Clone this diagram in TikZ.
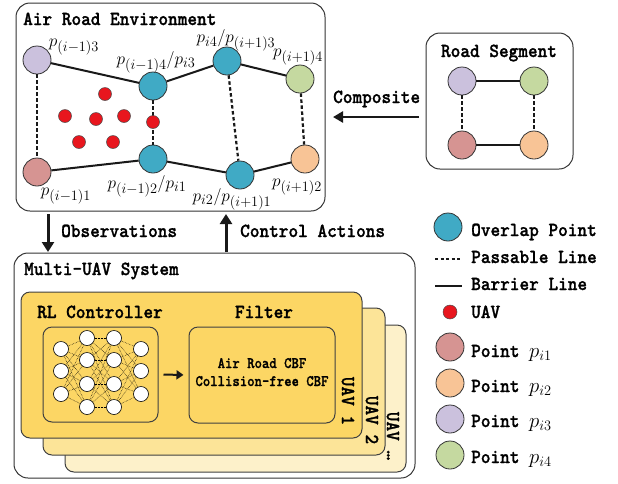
\documentclass[tikz,border=0pt]{standalone}
\usepackage{fontspec}
\usetikzlibrary{arrows.meta}
\newfontfamily\monob{lmmonolt10-bold}[Extension=.otf, FakeBold=1.2, FakeStretch=0.92]
\newfontfamily\monos{lmmonolt10-bold}[Extension=.otf, FakeBold=1.0, FakeStretch=0.88]
\definecolor{ovl}{RGB}{64,170,197}
\definecolor{lav}{RGB}{203,193,221}
\definecolor{grn}{RGB}{197,217,160}
\definecolor{pnk}{RGB}{214,148,146}
\definecolor{pch}{RGB}{248,196,150}
\definecolor{uavred}{RGB}{232,22,30}
\definecolor{goldA}{RGB}{252,214,100}
\definecolor{goldB}{RGB}{252,228,152}
\definecolor{goldC}{RGB}{253,241,202}
\newcommand\bigtt{\fontsize{20}{22}\selectfont\monob}
\newcommand\smalltt{\fontsize{16}{19}\selectfont\monos}
\newcommand\mathsz{\fontsize{19}{21}\selectfont}
\newcommand\legsz{\fontsize{22}{22}\selectfont}
\begin{document}
\begin{tikzpicture}[x=1pt,y=-1pt,
 pt/.style={circle, draw=black!80, line width=0.8pt, minimum size=28pt, inner sep=0pt},
 barrier/.style={line width=2pt, black!90},
 passable/.style={line width=2.2pt, dash pattern=on 3.5pt off 2.5pt, black!90},
 uav/.style={circle, fill=uavred, draw=black!70, line width=0.5pt, minimum size=13pt, inner sep=0pt},
 panel/.style={draw=black!80, line width=1pt, rounded corners=14pt},
 card/.style={draw=black!75, line width=1pt, rounded corners=9pt},
 neuron/.style={circle, draw=black, fill=white, line width=0.6pt, minimum size=15pt, inner sep=0pt},
 lbl/.style={font=\bigtt, inner sep=0pt},
 mlbl/.style={font=\mathsz, inner sep=0pt},
 bigarrow/.style={line width=3pt, black!90, -{Triangle[length=10pt,width=12pt]}},
]
\useasboundingbox (0,0) rectangle (618,483);

% ---------- Air Road Environment ----------
\draw[panel] (16,3) rectangle (325,211);
\node[lbl, anchor=base west] (envt) at (23,25) {Air Road Environment};

\node[pt, fill=lav] (a3) at (37,60) {};
\node[pt, fill=ovl] (a4) at (153,86) {};
\node[pt, fill=ovl] (b4) at (227,61) {};
\node[pt, fill=grn] (c4) at (300,79) {};
\node[pt, fill=pnk] (a1) at (37,172) {};
\node[pt, fill=ovl] (a2) at (153,159) {};
\node[pt, fill=ovl] (b2) at (240,175) {};
\node[pt, fill=pch] (c2) at (305,159) {};

\draw[barrier] (a3) -- (a4);
\draw[barrier] (a4) -- (b4);
\draw[barrier] (b4) -- (c4);
\draw[barrier] (a1) -- (a2);
\draw[barrier] (a2) -- (b2);
\draw[barrier] (b2) -- (c2);
\draw[passable] (a3) -- (a1);
\draw[passable] (a4) -- (a2);
\draw[passable] (b4) -- (b2);
\draw[passable] (c4) -- (c2);

\node[uav] (d1) at (105,94) {};
\node[uav] (d2) at (65,116) {};
\node[uav] (d3) at (96,119) {};
\node[uav] (d4) at (124,116) {};
\node[uav] (d5) at (79,142) {};
\node[uav] (d6) at (113,142) {};
\node[uav] (d7) at (153,122) {};

\node[mlbl] (l3) at (74,47) {$p_{(i-1)3}$};
\node[mlbl] (l4) at (156,62) {$p_{(i-1)4}/p_{i3}$};
\node[mlbl] (l5) at (236,40.5) {$p_{i4}/p_{(i+1)3}$};
\node[mlbl] (l6) at (298,57) {$p_{(i+1)4}$};
\node[mlbl] (l1) at (66,196) {$p_{(i-1)1}$};
\node[mlbl] (l2) at (147,186) {$p_{(i-1)2}/p_{i1}$};
\node[mlbl] (l7) at (232,199) {$p_{i2}/p_{(i+1)1}$};
\node[mlbl] (l8) at (297,187) {$p_{(i+1)2}$};

% ---------- Road Segment ----------
\draw[panel] (426,33) rectangle (573,169);
\node[lbl, anchor=base] (segt) at (499,57) {Road Segment};
\node[pt, fill=lav] (s3) at (462,81) {};
\node[pt, fill=grn] (s4) at (534,81) {};
\node[pt, fill=pnk] (s1) at (462,145) {};
\node[pt, fill=pch] (s2) at (534,145) {};
\draw[barrier] (s3) -- (s4);
\draw[barrier] (s1) -- (s2);
\draw[passable] (s3) -- (s1);
\draw[passable] (s4) -- (s2);

% ---------- Composite ----------
\node[lbl, anchor=base west] (comp) at (333,103) {Composite};
\coordinate (cmpS) at (419,117);
\coordinate (cmpE) at (333,117);
\draw[line width=2.5pt, black!90, -{Triangle[length=10pt,width=11pt]}] (cmpS) -- (cmpE);

% ---------- Observations / Control ----------
\coordinate (obsS) at (48,214);
\coordinate (obsE) at (48,252);
\draw[bigarrow] (obsS) -- (obsE);
\node[lbl, anchor=base west] (obst) at (61,237) {Observations};
\coordinate (ctlS) at (226,252);
\coordinate (ctlE) at (226,214);
\draw[bigarrow] (ctlS) -- (ctlE);
\node[lbl, anchor=base west] (ctlt) at (240,237) {Control Actions};

% ---------- Multi-UAV System ----------
\draw[panel] (14,253) rectangle (415,478);
\node[lbl, anchor=base west] (mst) at (24,275) {Multi-UAV System};

\draw[card, fill=goldC] (65,325) rectangle (406,472);
\draw[card, fill=goldB] (43,308) rectangle (385,455);
\draw[card, fill=goldA] (21,292) rectangle (362,438);

\node[lbl, anchor=base] (rlt) at (100,318) {RL Controller};
\node[lbl, anchor=base] (flt) at (264,318) {Filter};

\node[card, fill=goldA, minimum width=115pt, minimum height=95pt, inner sep=0pt] (nn) at (100.5,374.5) {};
\node[card, fill=goldA, minimum width=146pt, minimum height=96pt, inner sep=0pt] (fb) at (262,375) {};
\node[font=\smalltt, anchor=base, inner sep=0pt] (cbf1) at (262,368) {Air Road CBF};
\node[font=\smalltt, anchor=base, inner sep=0pt] (cbf2) at (262,386) {Collision-free CBF};
\draw[line width=2pt, black!90, -{Triangle[length=7pt,width=9pt]}, shorten <=5pt, shorten >=5pt] (nn.east) -- (fb.west);

% neural network
\foreach \y [count=\k] in {349,371,394} { \coordinate (nA\k) at (61,\y); \coordinate (nD\k) at (141,\y); }
\foreach \y [count=\k] in {338,360,384,407} { \coordinate (nB\k) at (87,\y); \coordinate (nC\k) at (114,\y); }
\foreach \i in {1,2,3} \foreach \j in {1,2,3,4} {
  \draw[densely dotted, line width=0.5pt] (nA\i) -- (nB\j);
  \draw[densely dotted, line width=0.5pt] (nC\j) -- (nD\i);
}
\foreach \i in {1,2,3,4} \foreach \j in {1,2,3,4} {
  \draw[densely dotted, line width=0.5pt] (nB\i) -- (nC\j);
}
\foreach \k in {1,2,3} { \node[neuron] (NA\k) at (nA\k) {}; \node[neuron] (ND\k) at (nD\k) {}; }
\foreach \k in {1,2,3,4} { \node[neuron] (NB\k) at (nB\k) {}; \node[neuron] (NC\k) at (nC\k) {}; }

\node[lbl, rotate=-90] (u1) at (348,401) {UAV 1};
\node[lbl, rotate=-90] (u2) at (372,420) {UAV 2};
\node[lbl, rotate=-90] (u3) at (393,436) {UAV \ldots};

% ---------- Legend ----------
\node[pt, fill=ovl] (g1) at (448,227) {};
\node[lbl, anchor=base west] (g1t) at (471,236) {Overlap Point};
\coordinate (gpa) at (435,259);
\coordinate (gpb) at (462,259);
\draw[line width=1.6pt, dash pattern=on 3pt off 2.5pt, black!90] (gpa) -- (gpb);
\node[lbl, anchor=base west] (g2t) at (471,263) {Passable Line};
\coordinate (gba) at (435,286);
\coordinate (gbb) at (462,286);
\draw[line width=1.8pt, black!90] (gba) -- (gbb);
\node[lbl, anchor=base west] (g3t) at (471,290) {Barrier Line};
\node[uav, minimum size=14pt] (g4) at (450,312) {};
\node[lbl, anchor=base west] (g4t) at (471,318) {UAV};
\node[pt, fill=pnk] (g5) at (450,347) {};
\node[lbl, anchor=base west] (g5t) at (471,357) {Point {\legsz$p_{i1}$}};
\node[pt, fill=pch] (g6) at (450,383) {};
\node[lbl, anchor=base west] (g6t) at (471,392) {Point {\legsz$p_{i2}$}};
\node[pt, fill=lav] (g7) at (450,419) {};
\node[lbl, anchor=base west] (g7t) at (471,427) {Point {\legsz$p_{i3}$}};
\node[pt, fill=grn] (g8) at (450,455) {};
\node[lbl, anchor=base west] (g8t) at (471,463) {Point {\legsz$p_{i4}$}};
\end{tikzpicture}
\end{document}
